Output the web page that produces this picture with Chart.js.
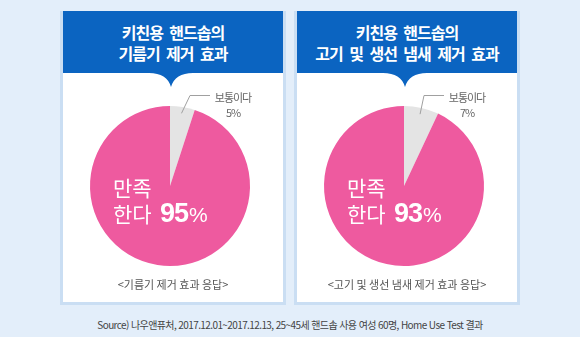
<!DOCTYPE html>
<html lang="ko">
<head>
<meta charset="utf-8">
<script src="https://cdn.jsdelivr.net/npm/chart.js@4.4.0/dist/chart.umd.min.js"></script>
<style>
  html, body { margin: 0; padding: 0; }
  body {
    width: 580px; height: 337px; position: relative; overflow: hidden;
    background: #e3eefa;
    font-family: "Noto Sans CJK KR", "Noto Sans", sans-serif;
  }
  .card {
    position: absolute; top: 11px; width: 220px; height: 291px;
    background: #fff; border: 3px solid #cadef3; border-top: 0;
  }
  .head {
    position: absolute; left: 0; top: 0; width: 100%; height: 62px;
    box-sizing: border-box; padding-top: 11px;
    background: #0b64c1; color: #fff; text-align: center;
    font-weight: bold; font-size: 16px; line-height: 21px;
    letter-spacing: -1px; word-spacing: 3px;
  }
  .notch { position: absolute; top: 61px; }
  .card canvas { position: absolute; left: 0; top: 62px; }
  .source {
    position: absolute; left: 0; top: 316px; width: 580px; text-align: center;
    font-size: 10px; line-height: 18px; color: #444; letter-spacing: -0.6px;
  }
</style>
</head>
<body>
<div class="source">Source) 나우앤퓨처, 2017.12.01~2017.12.13, 25~45세 핸드솝 사용 여성 60명, Home Use Test 결과</div>
<script>
(() => {
  'use strict'

  const categories = ['보통이다', '만족한다'];
  const greaseValues = [5, 95];
  const odorValues = [7, 93];
  const titles = [
    ['키친용 핸드솝의', '기름기 제거 효과'],
    ['키친용 핸드솝의', '고기 및 생선 냄새 제거 효과']
  ];
  const captions = ['<기름기 제거 효과 응답>', '<고기 및 생선 냄새 제거 효과 응답>'];

  const panels = [
    { left: 60, values: greaseValues, title: titles[0], caption: captions[0] },
    { left: 294, values: odorValues, title: titles[1], caption: captions[1] }
  ];

  // 보통이다 라벨(지시선) + 조각 안 만족 문구 + 하단 설명
  const pieText = {
    id: 'pieText',
    afterDatasetsDraw(chart, args, opts) {
      const ctx = chart.ctx;
      const data = chart.data.datasets[0].data;
      const arc = chart.getDatasetMeta(0).data[0];
      const cx = arc.x, cy = arc.y, r = arc.outerRadius;
      const mid = (arc.startAngle + arc.endAngle) / 2;
      ctx.save();

      // 지시선
      const sx = cx + Math.cos(mid) * r * 0.92;
      const sy = cy + Math.sin(mid) * r * 0.92;
      ctx.strokeStyle = '#a0a0a0';
      ctx.lineWidth = 1;
      ctx.beginPath();
      ctx.moveTo(sx, sy);
      ctx.lineTo(cx + 20, cy - 90.5);
      ctx.lineTo(cx + 40, cy - 90.5);
      ctx.stroke();

      ctx.fillStyle = '#666';
      ctx.textAlign = 'center';
      ctx.textBaseline = 'middle';
      ctx.font = '11px "Noto Sans CJK KR"';
      ctx.letterSpacing = '-1px';
      ctx.fillText(chart.data.labels[0], cx + 63, cy - 88);
      ctx.fillText(data[0] + '%', cx + 63, cy - 73);

      // 만족 한다 NN%
      ctx.fillStyle = '#fff';
      ctx.textAlign = 'left';
      ctx.font = '21px "Noto Sans CJK KR"';
      ctx.letterSpacing = '0px';
      const word = chart.data.labels[1];
      ctx.fillText(word.slice(0, 2), cx - 57, cy + 2);
      ctx.fillText(word.slice(2), cx - 57, cy + 28);
      ctx.font = 'bold 27px "Liberation Sans", Arial';
      ctx.letterSpacing = '-1px';
      const num = String(data[1]);
      ctx.fillText(num, cx - 10, cy + 29);
      const w = ctx.measureText(num).width;
      ctx.font = '21px "Liberation Sans", Arial';
      ctx.letterSpacing = '0px';
      ctx.fillText('%', cx - 9 + w, cy + 30);

      // 하단 설명
      ctx.fillStyle = '#555';
      ctx.textAlign = 'center';
      ctx.font = '11px "Noto Sans CJK KR"';
      ctx.letterSpacing = '0px';
      ctx.fillText(opts.caption, chart.width / 2, cy + 98.5);
      ctx.restore();
    }
  };

  panels.forEach(p => {
    const card = document.createElement('div');
    card.className = 'card';
    card.style.left = p.left + 'px';

    const head = document.createElement('div');
    head.className = 'head';
    head.innerHTML = p.title.join('<br>');
    card.appendChild(head);

    const canvas = document.createElement('canvas');
    canvas.width = 220;
    canvas.height = 229;
    card.appendChild(canvas);

    const ns = 'http://www.w3.org/2000/svg';
    const svg = document.createElementNS(ns, 'svg');
    svg.setAttribute('class', 'notch');
    svg.setAttribute('width', '50');
    svg.setAttribute('height', '16');
    svg.style.left = (108 - 25) + 'px';
    const path = document.createElementNS(ns, 'path');
    path.setAttribute('d', 'M0 0 L3 1 Q21 1 25 15 Q29 1 47 1 L50 0 Z');
    path.setAttribute('fill', '#0b64c1');
    svg.appendChild(path);
    card.appendChild(svg);

    document.body.appendChild(card);

    new Chart(canvas, {
      type: 'pie',
      data: {
        labels: categories,
        datasets: [{
          data: p.values,
          backgroundColor: ['#e4e4e4', '#ee5a9f'],
          borderWidth: 0
        }]
      },
      options: {
        responsive: false,
        animation: false,
        layout: { padding: { left: 27, right: 33, top: 33, bottom: 36 } },
        plugins: {
          legend: { display: false },
          tooltip: { enabled: false },
          pieText: { caption: p.caption }
        }
      },
      plugins: [pieText]
    });
  });
})();
</script>
</body>
</html>
